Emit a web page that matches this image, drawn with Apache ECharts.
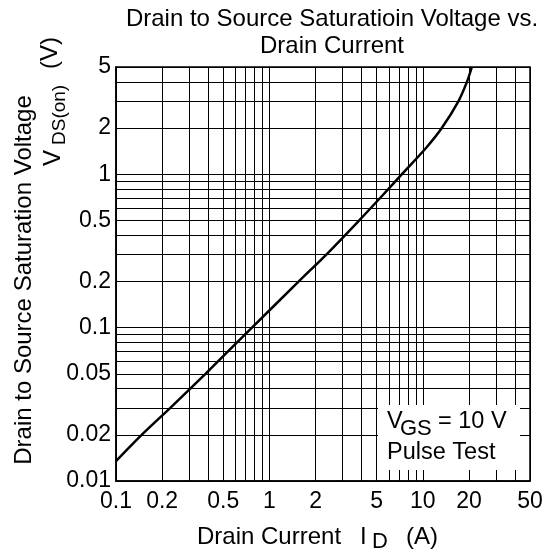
<!DOCTYPE html>
<html>
<head>
<meta charset="utf-8">
<script src="https://cdn.jsdelivr.net/npm/echarts@6/dist/echarts.min.js"></script>
<style>
html,body{margin:0;padding:0;background:#fff;}
#chart{width:559px;height:558px;}
</style>
</head>
<body>
<div id="chart"></div>
<script>
// Data
const drainCurrent = [0.1, 0.147, 0.226, 0.383, 0.77, 1.555, 2.44, 3.85, 5.27, 7.31, 10.6, 13.3, 17.1, 19.4, 20.9];
const vdsOn = [0.0135, 0.02, 0.03, 0.05, 0.1, 0.2, 0.311, 0.5, 0.7, 1.0, 1.5, 2, 3, 4, 5];

const xGridValues = [0.1,0.2,0.3,0.4,0.5,0.6,0.7,0.8,0.9,1,2,3,4,5,6,7,8,9,10,20,30,40,50];
const yGridValues = [0.01,0.02,0.03,0.04,0.05,0.06,0.07,0.08,0.09,0.1,0.2,0.3,0.4,0.5,0.6,0.7,0.8,0.9,1,2,3,4,5];
const xTickLabels = [0.1,0.2,0.5,1,2,5,10,20,50];
const yTickLabels = [0.01,0.02,0.05,0.1,0.2,0.5,1,2,5];

const FONT = 'Liberation Sans, Arial, Helvetica, sans-serif';
const chart = echarts.init(document.getElementById('chart'), null, {renderer: 'canvas'});

const fmt = v => String(Number(v.toPrecision(6)));

chart.setOption({
  animation: false,
  backgroundColor: '#fff',
  grid: {left: 116, top: 67, width: 414, height: 414, show: true, borderColor: '#000', borderWidth: 1.5, backgroundColor: 'transparent'},
  title: {
    text: 'Drain to Source Saturatioin Voltage vs.\nDrain Current',
    left: 327, top: 1, textAlign: 'center',
    textStyle: {fontFamily: FONT, fontSize: 24, fontWeight: 'normal', color: '#000', lineHeight: 27}
  },
  xAxis: {
    type: 'log', logBase: 10, min: 0.1, max: 50,
    axisLine: {show: true, lineStyle: {color: '#000', width: 1.5}},
    axisTick: {show: false, customValues: xGridValues},
    axisLabel: {customValues: xTickLabels, formatter: fmt, color: '#000', fontFamily: FONT, fontSize: 23, margin: 9},
    splitLine: {show: true, lineStyle: {color: '#000', width: 1}},
    minorSplitLine: {show: false}
  },
  yAxis: {
    type: 'log', logBase: 10, min: 0.01, max: 5,
    axisLine: {show: true, lineStyle: {color: '#000', width: 1.5}},
    axisTick: {show: false, customValues: yGridValues},
    axisLabel: {customValues: yTickLabels, formatter: fmt, color: '#000', fontFamily: FONT, fontSize: 23, margin: 5},
    splitLine: {show: true, lineStyle: {color: '#000', width: 1}},
    minorSplitLine: {show: false}
  },
  series: [{
    type: 'line',
    data: drainCurrent.map((x, i) => [x, vdsOn[i]]),
    smooth: 0.3,
    symbol: 'none',
    lineStyle: {color: '#000', width: 2.5},
    z: 5
  }],
  graphic: [
    {type: 'text', x: 24, y: 280, rotation: Math.PI/2, z: 100,
     style: {text: 'Drain to Source Saturation Voltage', font: '24px ' + FONT, fill: '#000', textAlign: 'center', textVerticalAlign: 'middle'}},
    {type: 'text', x: 53, y: 166, rotation: Math.PI/2, z: 100,
     style: {text: 'V', font: '24px ' + FONT, fill: '#000', textAlign: 'left', textVerticalAlign: 'middle'}},
    {type: 'text', x: 60, y: 145, rotation: Math.PI/2, z: 100,
     style: {text: 'DS(on)', font: '19px ' + FONT, fill: '#000', textAlign: 'left', textVerticalAlign: 'middle'}},
    {type: 'text', x: 50, y: 69, rotation: Math.PI/2, z: 100,
     style: {text: '(V)', font: '24px ' + FONT, fill: '#000', textAlign: 'left', textVerticalAlign: 'middle'}},
    {type: 'text', x: 197, y: 537, z: 100,
     style: {text: 'Drain Current', font: '24px ' + FONT, fill: '#000', textAlign: 'left', textVerticalAlign: 'middle'}},
    {type: 'text', x: 360, y: 537, z: 100,
     style: {text: 'I', font: '24px ' + FONT, fill: '#000', textAlign: 'left', textVerticalAlign: 'middle'}},
    {type: 'text', x: 372, y: 542, z: 100,
     style: {text: 'D', font: '22px ' + FONT, fill: '#000', textAlign: 'left', textVerticalAlign: 'middle'}},
    {type: 'text', x: 406, y: 537, z: 100,
     style: {text: '(A)', font: '24px ' + FONT, fill: '#000', textAlign: 'left', textVerticalAlign: 'middle'}},
    {type: 'rect', z: 99, shape: {x: 378, y: 405, width: 142, height: 65}, style: {fill: '#fff'}},
    {type: 'text', x: 387, y: 422, z: 100,
     style: {text: 'V', font: '23.5px ' + FONT, fill: '#000', textAlign: 'left', textVerticalAlign: 'middle'}},
    {type: 'text', x: 400, y: 429, z: 100,
     style: {text: 'GS', font: '22px ' + FONT, fill: '#000', textAlign: 'left', textVerticalAlign: 'middle'}},
    {type: 'text', x: 438, y: 422, z: 100,
     style: {text: '= 10 V', font: '23.5px ' + FONT, fill: '#000', textAlign: 'left', textVerticalAlign: 'middle'}},
    {type: 'text', x: 387, y: 453, z: 100,
     style: {text: 'Pulse Test', font: '23.5px ' + FONT, fill: '#000', textAlign: 'left', textVerticalAlign: 'middle'}}
  ]
});
</script>
</body>
</html>
